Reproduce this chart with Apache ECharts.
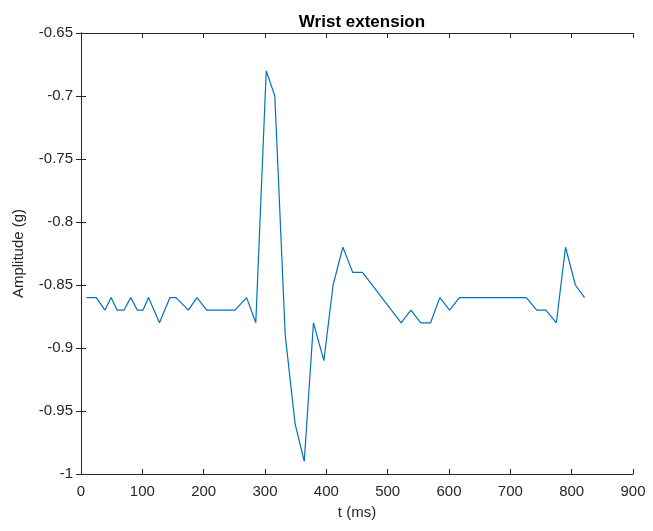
<!DOCTYPE html>
<html>
<head>
<meta charset="utf-8">
<script src="https://cdn.jsdelivr.net/npm/echarts@6/dist/echarts.min.js"></script>
<style>
html,body{margin:0;padding:0;background:#fff;}
#chart{width:653px;height:531px;}
</style>
</head>
<body>
<div id="chart"></div>
<script>
var timeMs = [9, 25, 39, 49, 59, 70, 81, 92, 101, 110, 128, 145, 155, 175, 189, 205, 251, 270, 285, 302, 316, 333, 349, 364, 379, 396, 411, 427, 443, 459, 522, 538, 554, 570, 585, 601, 617, 726, 743, 758, 775, 790, 806, 821];
var amplitude = [-0.86, -0.86, -0.87, -0.86, -0.87, -0.87, -0.86, -0.87, -0.87, -0.86, -0.88, -0.86, -0.86, -0.87, -0.86, -0.87, -0.87, -0.86, -0.88, -0.68, -0.70, -0.89, -0.96, -0.99, -0.88, -0.91, -0.85, -0.82, -0.84, -0.84, -0.88, -0.87, -0.88, -0.88, -0.86, -0.87, -0.86, -0.86, -0.87, -0.87, -0.88, -0.82, -0.85, -0.86];
var titleText = 'Wrist extension';
var xName = 't (ms)';
var yName = 'Amplitude (g)';

var seriesData = timeMs.map(function (t, i) { return [t, amplitude[i]]; });
var txt = '#262626';
var font = 'Liberation Sans, Arial, sans-serif';

var chart = echarts.init(document.getElementById('chart'), null, {renderer: 'canvas'});
var boxAxis = {
  axisLine: {show: true, lineStyle: {color: txt, width: 1}},
  axisTick: {show: true, inside: true, length: 5, lineStyle: {color: txt}},
  axisLabel: {show: false},
  splitLine: {show: false}
};
chart.setOption({
  animation: false,
  backgroundColor: '#fff',
  title: {
    text: titleText,
    left: 357,
    textAlign: 'center',
    top: 9,
    textStyle: {fontFamily: font, fontSize: 17, fontWeight: 'bold', color: '#000'}
  },
  grid: {left: 81, right: 20, top: 33, bottom: 57, containLabel: false},
  xAxis: [
    {
      type: 'value', min: 0, max: 900, interval: 100, position: 'bottom',
      name: xName, nameLocation: 'middle', nameGap: 31,
      nameTextStyle: {fontFamily: font, fontSize: 15, color: txt},
      axisLine: {show: true, onZero: false, lineStyle: {color: txt, width: 1}},
      axisTick: {show: true, inside: true, length: 5, lineStyle: {color: txt}},
      axisLabel: {fontFamily: font, fontSize: 15, color: txt, margin: 10},
      splitLine: {show: false}
    },
    Object.assign({type: 'value', min: 0, max: 900, interval: 100, position: 'top'}, boxAxis)
  ],
  yAxis: [
    {
      type: 'value', min: -1, max: -0.65, interval: 0.05, position: 'left',
      name: yName, nameLocation: 'middle', nameGap: 55,
      nameTextStyle: {fontFamily: font, fontSize: 15, color: txt},
      axisLine: {show: true, onZero: false, lineStyle: {color: txt, width: 1}},
      axisTick: {show: true, inside: true, length: 5, lineStyle: {color: txt}},
      axisLabel: {fontFamily: font, fontSize: 15, color: txt, margin: 8,
        formatter: function (v) { return String(Math.round(v * 100) / 100); }},
      splitLine: {show: false}
    },
    Object.assign({type: 'value', min: -1, max: -0.65, interval: 0.05, position: 'right'}, boxAxis)
  ],
  series: [{
    type: 'line',
    xAxisIndex: 0,
    yAxisIndex: 0,
    data: seriesData,
    showSymbol: false,
    symbol: 'none',
    lineStyle: {color: '#0072BD', width: 1.2},
    itemStyle: {color: '#0072BD'}
  }]
});
</script>
</body>
</html>
